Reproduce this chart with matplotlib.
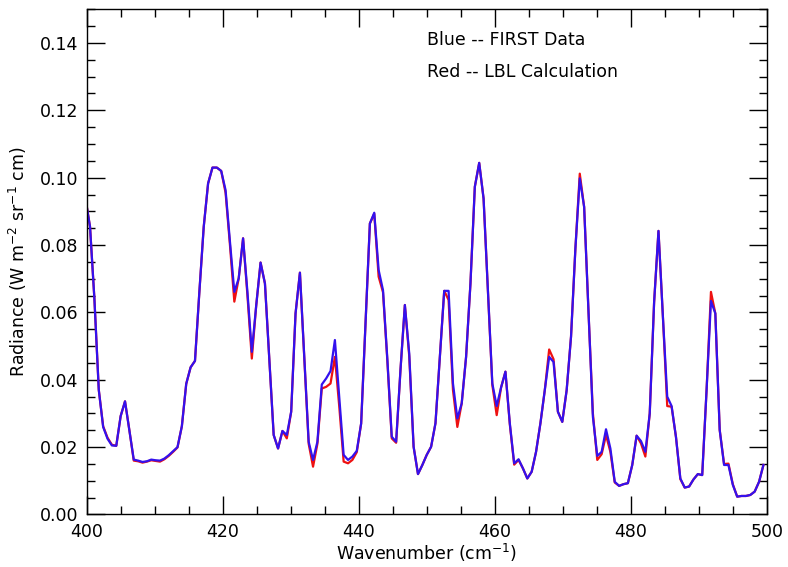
import matplotlib
matplotlib.use('Agg')

import matplotlib.pyplot as plt
import numpy as np
from matplotlib.ticker import MultipleLocator

# spectral sampling of the instrument (cm-1)
wn_start = 399.85
wn_step = 0.643

# Blue -- FIRST data
first_data = [
    0.0935, 0.0854, 0.0640, 0.0370, 0.0260, 0.0225, 0.0205, 0.0204, 0.0292, 0.0336,
    0.0250, 0.0163, 0.0160, 0.0156, 0.0158, 0.0163, 0.0161, 0.0160, 0.0166, 0.0176,
    0.0188, 0.0200, 0.0262, 0.0388, 0.0437, 0.0456, 0.0660, 0.0854, 0.0983, 0.1030,
    0.1030, 0.1020, 0.0963, 0.0810, 0.0661, 0.0701, 0.0820, 0.0660, 0.0483, 0.0620,
    0.0748, 0.0686, 0.0460, 0.0236, 0.0196, 0.0248, 0.0236, 0.0305, 0.0597, 0.0718,
    0.0470, 0.0216, 0.0162, 0.0216, 0.0386, 0.0404, 0.0426, 0.0518, 0.0347, 0.0177,
    0.0162, 0.0172, 0.0189, 0.0270, 0.0570, 0.0864, 0.0896, 0.0726, 0.0666, 0.0460,
    0.0231, 0.0216, 0.0430, 0.0622, 0.0478, 0.0201, 0.0120, 0.0147, 0.0177, 0.0201,
    0.0271, 0.0468, 0.0664, 0.0664, 0.0389, 0.0285, 0.0330, 0.0468, 0.0686, 0.0973,
    0.1044, 0.0938, 0.0666, 0.0389, 0.0322, 0.0377, 0.0424, 0.0271, 0.0152, 0.0164,
    0.0137, 0.0107, 0.0127, 0.0186, 0.0271, 0.0369, 0.0468, 0.0453, 0.0305, 0.0275,
    0.0369, 0.0528, 0.0790, 0.0998, 0.0913, 0.0600, 0.0290, 0.0174, 0.0186, 0.0253,
    0.0196, 0.0097, 0.0085, 0.0090, 0.0093, 0.0147, 0.0234, 0.0218, 0.0186, 0.0300,
    0.0630, 0.0842, 0.0590, 0.0350, 0.0322, 0.0230, 0.0107, 0.0080, 0.0083, 0.0104,
    0.0120, 0.0117, 0.0370, 0.0634, 0.0597, 0.0251, 0.0147, 0.0147, 0.0088, 0.0053,
    0.0055, 0.0055, 0.0058, 0.0068, 0.0097, 0.0147,
]

# Red -- LBL calculation
lbl_calc = [
    0.0935, 0.0854, 0.0640, 0.0370, 0.0262, 0.0228, 0.0207, 0.0204, 0.0292, 0.0336,
    0.0250, 0.0160, 0.0158, 0.0154, 0.0157, 0.0161, 0.0159, 0.0157, 0.0164, 0.0174,
    0.0186, 0.0199, 0.0262, 0.0388, 0.0437, 0.0456, 0.0660, 0.0854, 0.0983, 0.1030,
    0.1030, 0.1020, 0.0955, 0.0800, 0.0632, 0.0701, 0.0820, 0.0650, 0.0463, 0.0620,
    0.0748, 0.0686, 0.0460, 0.0236, 0.0196, 0.0248, 0.0226, 0.0305, 0.0597, 0.0718,
    0.0465, 0.0210, 0.0142, 0.0210, 0.0374, 0.0379, 0.0389, 0.0468, 0.0320, 0.0157,
    0.0152, 0.0162, 0.0185, 0.0270, 0.0570, 0.0864, 0.0893, 0.0706, 0.0660, 0.0455,
    0.0226, 0.0213, 0.0430, 0.0622, 0.0470, 0.0201, 0.0120, 0.0147, 0.0177, 0.0201,
    0.0271, 0.0468, 0.0664, 0.0637, 0.0370, 0.0260, 0.0330, 0.0468, 0.0686, 0.0973,
    0.1044, 0.0938, 0.0660, 0.0385, 0.0295, 0.0377, 0.0424, 0.0268, 0.0148, 0.0162,
    0.0137, 0.0107, 0.0127, 0.0186, 0.0271, 0.0369, 0.0490, 0.0461, 0.0305, 0.0275,
    0.0369, 0.0528, 0.0790, 0.1012, 0.0913, 0.0600, 0.0300, 0.0162, 0.0179, 0.0236,
    0.0186, 0.0095, 0.0085, 0.0090, 0.0093, 0.0147, 0.0234, 0.0211, 0.0172, 0.0300,
    0.0630, 0.0842, 0.0590, 0.0322, 0.0320, 0.0230, 0.0105, 0.0080, 0.0083, 0.0104,
    0.0120, 0.0117, 0.0370, 0.0661, 0.0597, 0.0251, 0.0150, 0.0151, 0.0090, 0.0053,
    0.0055, 0.0055, 0.0058, 0.0068, 0.0097, 0.0147,
]

wavenumber = wn_start + wn_step * np.arange(len(first_data))

fig = plt.figure(figsize=(7.88, 5.67), dpi=100)
ax = fig.add_axes([0.110, 0.0926, 0.863, 0.891])

ax.plot(wavenumber, lbl_calc, color='#ee1111', lw=1.6)
ax.plot(wavenumber, first_data, color='#3311ee', lw=1.6)

ax.set_xlim(400, 500)
ax.set_ylim(0, 0.15)
ax.xaxis.set_major_locator(MultipleLocator(20))
ax.xaxis.set_minor_locator(MultipleLocator(5))
ax.yaxis.set_major_locator(MultipleLocator(0.02))
ax.yaxis.set_minor_locator(MultipleLocator(0.005))
ax.yaxis.set_major_formatter(matplotlib.ticker.FormatStrFormatter('%.2f'))
ax.tick_params(which='both', direction='in', top=True, right=True, labelsize=12.5, width=1.0)
ax.tick_params(which='major', length=13, pad=6)
ax.tick_params(which='minor', length=6)
for s in ax.spines.values():
    s.set_linewidth(1.0)

ax.set_xlabel('Wavenumber (cm$^{-1}$)', fontsize=12.5, labelpad=1)
ax.set_ylabel('Radiance (W m$^{-2}$ sr$^{-1}$ cm)', fontsize=12.5, labelpad=8)

ax.text(450.0, 0.1408, 'Blue -- FIRST Data', fontsize=12.5, va='center')
ax.text(450.0, 0.1313, 'Red -- LBL Calculation', fontsize=12.5, va='center')

plt.savefig('out.png', dpi=100)
